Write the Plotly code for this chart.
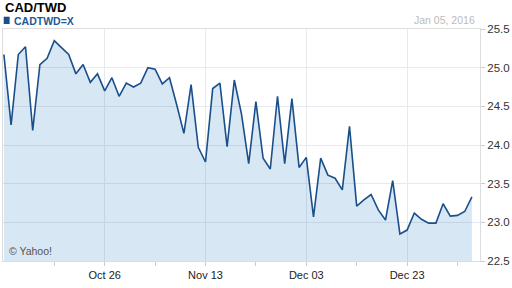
import plotly.graph_objects as go

dates = [
    "2015-10-06", "2015-10-07", "2015-10-08", "2015-10-09", "2015-10-12", "2015-10-13",
    "2015-10-14", "2015-10-15", "2015-10-16", "2015-10-19", "2015-10-20", "2015-10-21",
    "2015-10-22", "2015-10-23", "2015-10-26", "2015-10-27", "2015-10-28", "2015-10-29",
    "2015-10-30", "2015-11-02", "2015-11-03", "2015-11-04", "2015-11-05", "2015-11-06",
    "2015-11-09", "2015-11-10", "2015-11-11", "2015-11-12", "2015-11-13", "2015-11-16",
    "2015-11-17", "2015-11-18", "2015-11-19", "2015-11-20", "2015-11-23", "2015-11-24",
    "2015-11-25", "2015-11-26", "2015-11-27", "2015-11-30", "2015-12-01", "2015-12-02",
    "2015-12-03", "2015-12-04", "2015-12-07", "2015-12-08", "2015-12-09", "2015-12-10",
    "2015-12-11", "2015-12-14", "2015-12-15", "2015-12-16", "2015-12-17", "2015-12-18",
    "2015-12-21", "2015-12-22", "2015-12-23", "2015-12-24", "2015-12-25", "2015-12-28",
    "2015-12-29", "2015-12-30", "2015-12-31", "2016-01-01", "2016-01-04", "2016-01-05",
]
cadtwd = [
    25.17, 24.26, 25.17, 25.27, 24.19, 25.04,
    25.12, 25.35, 25.26, 25.17, 24.92, 25.04,
    24.81, 24.92, 24.70, 24.87, 24.63, 24.80,
    24.75, 24.80, 25.00, 24.98, 24.79, 24.87,
    24.52, 24.15, 24.78, 23.97, 23.78, 24.73,
    24.80, 23.98, 24.84, 24.40, 23.76, 24.56,
    23.83, 23.69, 24.63, 23.76, 24.60, 23.71,
    23.84, 23.07, 23.83, 23.61, 23.57, 23.42,
    24.24, 23.21, 23.29, 23.36, 23.16, 23.03,
    23.54, 22.85, 22.90, 23.12, 23.04, 22.99,
    22.99, 23.24, 23.08, 23.09, 23.14, 23.33,
]

major_tick_dates = ["2015-10-26", "2015-11-13", "2015-12-03", "2015-12-23"]
major_tick_labels = ["Oct 26", "Nov 13", "Dec 03", "Dec 23"]
minor_tick_dates = ["2015-10-15", "2015-11-04", "2015-11-24", "2015-12-14", "2016-01-01"]
y_tick_vals = [22.5, 23.0, 23.5, 24.0, 24.5, 25.0, 25.5]
y_tick_labels = ["22.5", "23.0", "23.5", "24.0", "24.5", "25.0", "25.5"]

FONT = "Liberation Sans, Arial, sans-serif"
GRID = "#e6e9ed"
LINE = "#1b4f8b"

fig = go.Figure()
fig.add_trace(go.Scatter(
    x=dates, y=cadtwd, mode="lines",
    line=dict(color=LINE, width=1.6),
    fill="tozeroy", fillcolor="rgba(55,135,195,0.2)",
    hoverinfo="skip", showlegend=False,
))

fig.update_layout(
    width=512, height=288,
    margin=dict(l=2, r=27, t=29, b=27),
    paper_bgcolor="white", plot_bgcolor="white",
    font=dict(family=FONT, size=11, color="#333333"),
    showlegend=False,
    xaxis=dict(
        type="date",
        rangebreaks=[dict(bounds=["sat", "mon"])],
        range=["2015-10-05 21:00", "2016-01-06 03:00"],
        tickmode="array", tickvals=major_tick_dates, ticktext=major_tick_labels,
        ticks="outside", ticklen=4, tickcolor="#cccccc",
        showgrid=True, gridcolor=GRID, gridwidth=1,
        showline=True, linecolor="#dddddd", mirror=True,
        zeroline=False,
        tickfont=dict(size=11, color="#222222"),
        minor=dict(tickmode="array", tickvals=minor_tick_dates, ticks="outside",
                   ticklen=4, tickcolor="#cccccc", showgrid=False),
    ),
    yaxis=dict(
        side="right",
        range=[22.5, 25.5],
        tickmode="array", tickvals=y_tick_vals, ticktext=y_tick_labels,
        ticks="outside", ticklen=4, tickcolor="#cccccc",
        showgrid=True, gridcolor=GRID, gridwidth=1,
        showline=True, linecolor="#dddddd", mirror=True,
        zeroline=False,
        tickfont=dict(size=11.5, color="#333333"),
    ),
)

fig.add_shape(type="rect", xref="paper", yref="paper",
              x0=0.0015, x1=0.0139, y0=1.0216, y1=1.053,
              fillcolor=LINE, line=dict(width=0))

fig.add_annotation(text="<b>CAD/TWD</b>", xref="paper", yref="paper",
                   x=0.002, y=1.093, xanchor="left", yanchor="middle", showarrow=False,
                   borderpad=0, font=dict(family=FONT, size=13, color="#000000"))
fig.add_annotation(text="<b>CADTWD=X</b>", xref="paper", yref="paper",
                   x=0.022, y=1.035, xanchor="left", yanchor="middle", showarrow=False,
                   borderpad=0, font=dict(family=FONT, size=10.5, color="#1f5a96"))
fig.add_annotation(text="Jan 05, 2016", xref="paper", yref="paper",
                   x=0.9925, y=1.0388, xanchor="right", yanchor="middle", showarrow=False,
                   borderpad=0, font=dict(family=FONT, size=10.5, color="#bbbbbb"))
fig.add_annotation(text="© Yahoo!", xref="paper", yref="paper",
                   x=0.010, y=0.0418, xanchor="left", yanchor="middle", showarrow=False,
                   borderpad=0, font=dict(family=FONT, size=10.5, color="#555555"))

fig.write_html("out.html")
